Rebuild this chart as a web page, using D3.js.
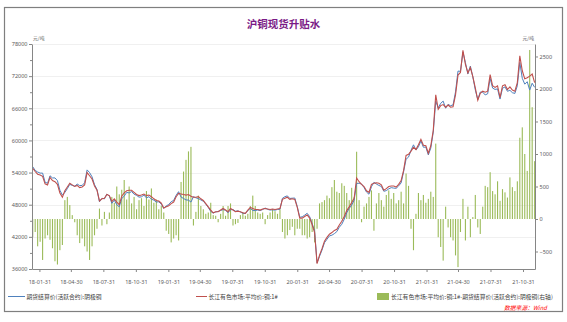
<!DOCTYPE html>
<html><head><meta charset="utf-8">
<script src="https://cdn.jsdelivr.net/npm/d3@7"></script>
<style>
body{margin:0;background:#fff;}
svg{display:block;font-family:"Noto Sans CJK SC","Noto Sans",sans-serif;}
</style>
</head><body>
<svg id="c" width="567" height="322"></svg>
<script>
const chartTitle = "沪铜现货升贴水";
const seriesNames = ["期货结算价(活跃合约):阴极铜", "长江有色市场:平均价:铜:1#", "长江有色市场:平均价:铜:1#-期货结算价(活跃合约):阴极铜(右轴)"];
const unitLabel = "元/吨";
const sourceLabel = "数据来源：Wind";

const dates = [
"18-01-12","18-01-19","18-01-26","18-02-02","18-02-09","18-02-16","18-02-23","18-03-02","18-03-09","18-03-16",
"18-03-23","18-03-30","18-04-06","18-04-13","18-04-20","18-04-27","18-05-04","18-05-11","18-05-18","18-05-25",
"18-06-01","18-06-08","18-06-15","18-06-22","18-06-29","18-07-06","18-07-13","18-07-20","18-07-27","18-08-03",
"18-08-10","18-08-17","18-08-24","18-08-31","18-09-07","18-09-14","18-09-21","18-09-28","18-10-05","18-10-12",
"18-10-19","18-10-26","18-11-02","18-11-09","18-11-16","18-11-23","18-11-30","18-12-07","18-12-14","18-12-21",
"18-12-28",
"19-01-04","19-01-11","19-01-18","19-01-25","19-02-01","19-02-08","19-02-15","19-02-22","19-03-01",
"19-03-08","19-03-15","19-03-22","19-03-29","19-04-05","19-04-12","19-04-19","19-04-26","19-05-03","19-05-10",
"19-05-17","19-05-24","19-05-31","19-06-07","19-06-14","19-06-21","19-06-28","19-07-05","19-07-12","19-07-19",
"19-07-26","19-08-02","19-08-09","19-08-16","19-08-23","19-08-30","19-09-06","19-09-13","19-09-20","19-09-27",
"19-10-04","19-10-11","19-10-18","19-10-25","19-11-01","19-11-08","19-11-15","19-11-22","19-11-29","19-12-06",
"19-12-13","19-12-20","19-12-27",
"20-01-03","20-01-10","20-01-17","20-01-24","20-01-31","20-02-07","20-02-14",
"20-02-21","20-02-28","20-03-06","20-03-13","20-03-20","20-03-27","20-04-03","20-04-10","20-04-17","20-04-24",
"20-05-01","20-05-08","20-05-15","20-05-22","20-05-29","20-06-05","20-06-12","20-06-19","20-06-26","20-07-03",
"20-07-10","20-07-17","20-07-24","20-07-31","20-08-07","20-08-14","20-08-21","20-08-28","20-09-04","20-09-11",
"20-09-18","20-09-25","20-10-02","20-10-09","20-10-16","20-10-23","20-10-30","20-11-06","20-11-13","20-11-20",
"20-11-27","20-12-04","20-12-11","20-12-18","20-12-25",
"21-01-01","21-01-08","21-01-15","21-01-22","21-01-29",
"21-02-05","21-02-12","21-02-19","21-02-26","21-03-05","21-03-12","21-03-19","21-03-26","21-04-02","21-04-09",
"21-04-16","21-04-23","21-04-30","21-05-07","21-05-14","21-05-21","21-05-28","21-06-04","21-06-11","21-06-18",
"21-06-25","21-07-02","21-07-09","21-07-16","21-07-23","21-07-30","21-08-06","21-08-13","21-08-20","21-08-27",
"21-09-03","21-09-10","21-09-17","21-09-24","21-10-01","21-10-08","21-10-15","21-10-22","21-10-29","21-11-05",
"21-11-12","21-11-19","21-11-26","21-12-03"
];

// 长江有色市场:平均价:铜:1# (元/吨)
const spotPrice = [
54800,54200,53700,53550,53300,51900,51700,53100,52500,52300,
51800,50200,49400,50600,51300,52000,51700,51400,51600,51200,
51300,51700,54000,53400,52800,51500,50700,48700,49100,49200,
49900,49700,48600,49100,48500,48000,49600,50200,50600,50700,
50700,50300,49900,49700,49800,50000,49700,49800,49500,49100,
48800,48700,48300,47400,47600,47800,48200,48500,49500,50100,
50000,49900,49800,49900,49600,49400,49400,49500,49100,48800,
48200,47600,47000,46500,46700,46700,47000,47300,47000,46700,
47300,47000,46700,46800,46700,46500,46400,47000,47500,47300,
47100,47100,47000,47200,47300,47200,47100,47200,47100,47200,
47300,49000,49200,49400,49000,49100,49000,47500,45500,45500,
45800,46100,45500,44300,42800,37000,38600,39800,41200,41900,
42500,42800,43200,43400,44200,44900,45800,46900,47600,48400,
49200,53000,52300,51800,51400,50600,50300,51800,52000,52100,
52000,51700,50700,51000,51400,51500,51500,51300,51800,52500,
54400,57200,57400,58000,58700,58300,59200,60200,59100,59000,
57600,59000,61900,68500,65800,66500,66700,66200,66600,66200,
66300,68500,72200,72700,76800,74200,72600,73600,71900,69800,
67500,68800,69200,69000,69200,72300,70200,69900,70200,68000,
70200,70400,69500,70000,69400,69200,70800,75800,73000,71500,
71700,72000,72400,70800
];

// 期货结算价(活跃合约):阴极铜 (元/吨)
const futuresPrice = [
55100,54400,54100,53900,53900,52200,52000,53400,53000,53000,
52500,50700,49800,50300,51000,51800,51600,51450,51850,51570,
51600,52100,54500,54000,53200,51750,50850,48540,49200,49090,
49980,49600,48260,48850,48000,47620,49150,49600,50300,50200,
50460,49960,49750,49410,49480,49800,49270,49500,49030,48850,
48500,48550,48100,47300,47780,48030,48560,48800,49750,50430,
49430,49170,48890,48860,48490,49500,49290,49140,48900,48650,
48120,47500,46750,46440,46650,46750,46920,47100,46950,46500,
47060,47100,46780,46860,46640,46400,46350,46920,47300,46940,
46900,47000,46920,47100,47380,47140,47000,47050,46980,47120,
47150,49200,49500,49650,49170,49220,49250,47650,45650,45750,
46050,46400,45780,44500,43160,37150,38360,39540,40910,41540,
42180,42310,42600,42980,43800,44350,45290,46500,47310,47920,
48860,51970,52010,51850,51210,50360,49960,51360,52180,51860,
51600,51410,50510,50630,50960,51190,51100,51060,51510,52080,
54160,56500,56890,58150,59180,58220,58800,59910,58730,58750,
57290,58580,61560,67340,66080,66930,67340,66010,66730,66480,
66630,69060,72940,72900,76490,74530,72410,73880,71870,69430,
67630,69030,69010,68490,68710,71580,69770,69520,69620,67720,
69740,69990,69170,69360,68910,68770,70220,74550,71590,70500,
70960,69400,70680,69910
];

// 升贴水 (右轴, 元/吨)
const spread = [
-280,-200,-420,-350,-630,-300,-250,-320,-450,-650,
-700,-480,-400,290,340,215,60,-50,-250,-370,
-300,-420,-500,-630,-420,-250,-150,160,-100,110,
-80,100,340,250,500,380,450,600,300,500,
240,340,150,290,320,200,430,300,470,250,
300,150,200,100,-180,-230,-360,-300,-250,-330,
570,730,910,1040,1110,-100,110,360,200,150,
80,100,250,60,50,-50,80,200,50,200,
240,-100,-80,-60,60,100,50,80,200,360,
200,100,80,100,-80,60,100,150,120,80,
150,-200,-300,-250,-170,-120,-250,-150,-150,-250,
-250,-300,-280,-200,-360,-150,240,260,290,360,
320,490,600,420,400,550,510,400,290,480,
340,1035,290,-50,190,240,340,440,-180,240,
400,290,190,370,440,310,400,240,290,420,
240,700,510,-150,-480,80,400,290,370,250,
310,420,340,1160,-280,-430,-640,190,-130,-280,
-330,-560,-740,-200,310,-330,190,-280,30,370,
-130,-230,190,510,490,720,430,380,580,280,
460,410,330,640,490,430,580,1250,1410,1000,
740,2600,1720,890
];

const xTickLabels = ["18-01-31","18-04-30","18-07-31","18-10-31","19-01-31","19-04-30","19-07-31","19-10-31",
  "20-01-31","20-04-30","20-07-31","20-10-31","21-01-31","21-04-30","21-07-31","21-10-31"];
const leftTicks = [36000,42000,48000,54000,60000,66000,72000,78000];
const leftMinorTicks = [39000,45000,51000,57000,63000,69000,75000];
const rightTicks = [-500,0,500,1000,1500,2000,2500];
const xDomain = ["18-01-10","21-12-04"];
const leftDomain = [36000,78000];
const rightDomain = [-769,2692];

const parse = d3.timeParse("%y-%m-%d");
const fmt = d3.timeFormat("%y-%m-%d");
const svg = d3.select("#c");

const plot = {left:32, right:535, top:44, bottom:269};
const x = d3.scaleTime().domain(xDomain.map(parse)).range([plot.left, plot.right]);
const yL = d3.scaleLinear().domain(leftDomain).range([plot.bottom, plot.top]);
const yR = d3.scaleLinear().domain(rightDomain).range([plot.bottom, plot.top]);

const n = Math.min(dates.length, spotPrice.length, futuresPrice.length, spread.length);
const rows = d3.range(n).map(i => ({d: parse(dates[i]), spot: spotPrice[i], fut: futuresPrice[i], sp: spread[i]}));

// outer frame
svg.append("rect").attr("x",4.5).attr("y",7.5).attr("width",558).attr("height",304)
  .attr("fill","#fff").attr("stroke","#7f7f7f").attr("stroke-width",1.2);

// title
svg.append("text").attr("x",(plot.left+plot.right)/2).attr("y",28).attr("text-anchor","middle")
  .attr("font-size",10.5).attr("font-weight","bold").attr("fill","#7a1a86").text(chartTitle);

// grid
svg.append("g").selectAll("line").data(leftTicks).join("line")
  .attr("x1",plot.left).attr("x2",plot.right)
  .attr("y1",d=>Math.round(yL(d))+0.5).attr("y2",d=>Math.round(yL(d))+0.5)
  .attr("stroke","#ececec").attr("stroke-width",0.8);

// bars
const bw = 1.1;
svg.append("g").selectAll("rect").data(rows).join("rect")
  .attr("x",d=>x(d.d)-bw/2).attr("width",bw)
  .attr("y",d=>yR(Math.max(0,d.sp))).attr("height",d=>Math.abs(yR(d.sp)-yR(0)))
  .attr("fill","#9bbb59");

// lines
const lineF = d3.line().x(d=>x(d.d)).y(d=>yL(d.fut));
const lineS = d3.line().x(d=>x(d.d)).y(d=>yL(d.spot));
svg.append("path").datum(rows).attr("d",lineF).attr("fill","none").attr("stroke","#4f81bd").attr("stroke-width",1);
svg.append("path").datum(rows).attr("d",lineS).attr("fill","none").attr("stroke","#c0504d").attr("stroke-width",1.1);

// axes
function styleAxis(g){
  g.select(".domain").attr("stroke","#868686");
  g.selectAll(".tick line").attr("stroke","#868686");
  g.selectAll(".tick text").attr("fill","#595959").attr("font-size",5.5).attr("font-family","'Noto Sans',sans-serif");
}
const gL = svg.append("g").attr("transform",`translate(${plot.left},0)`)
  .call(d3.axisLeft(yL).tickValues(leftTicks).tickSize(3).tickPadding(1.5).tickFormat(d3.format("d")).tickSizeOuter(0));
styleAxis(gL);
const gLm = svg.append("g").attr("transform",`translate(${plot.left},0)`)
  .call(d3.axisLeft(yL).tickValues(leftMinorTicks).tickSize(2).tickFormat("").tickSizeOuter(0));
styleAxis(gLm); gLm.select(".domain").remove();

const gR = svg.append("g").attr("transform",`translate(${plot.right},0)`)
  .call(d3.axisRight(yR).tickValues(rightTicks).tickSize(3).tickPadding(1.5).tickFormat(d3.format("d")).tickSizeOuter(0));
styleAxis(gR);

const gX = svg.append("g").attr("transform",`translate(0,${plot.bottom})`)
  .call(d3.axisBottom(x).tickValues(xTickLabels.map(parse)).tickSize(3).tickPadding(8).tickFormat(fmt).tickSizeOuter(0));
styleAxis(gX);

// unit labels
svg.append("text").attr("x",plot.left+1).attr("y",40).attr("font-size",4.8).attr("fill","#595959").text(unitLabel);
svg.append("text").attr("x",plot.right-1).attr("y",40).attr("text-anchor","end").attr("font-size",4.8).attr("fill","#595959").text(unitLabel);

// legend
const lg = svg.append("g").attr("font-size",5.8).attr("fill","#404040");
lg.append("line").attr("x1",8).attr("x2",25).attr("y1",296.5).attr("y2",296.5).attr("stroke","#4f81bd").attr("stroke-width",1);
lg.append("text").attr("x",26.5).attr("y",296.5).attr("dominant-baseline","central").text(seriesNames[0]);
lg.append("line").attr("x1",196).attr("x2",207).attr("y1",296.5).attr("y2",296.5).attr("stroke","#c0504d").attr("stroke-width",1);
lg.append("text").attr("x",208.5).attr("y",296.5).attr("dominant-baseline","central").text(seriesNames[1]);
lg.append("rect").attr("x",377).attr("y",293).attr("width",12).attr("height",7).attr("fill","#9bbb59");
lg.append("text").attr("x",391).attr("y",296.5).attr("dominant-baseline","central").text(seriesNames[2]);

svg.append("text").attr("x",504).attr("y",307.5).attr("dominant-baseline","central")
  .attr("font-size",5.8).attr("font-style","italic").attr("fill","#ff0000").text(sourceLabel);
</script>
</body></html>
